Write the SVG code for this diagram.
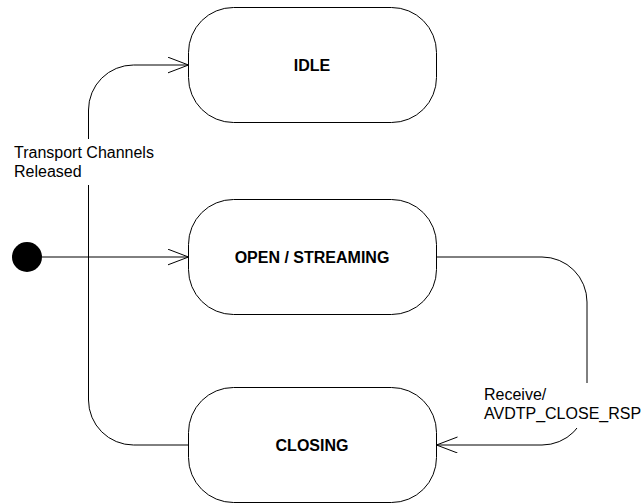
<svg xmlns="http://www.w3.org/2000/svg" width="641" height="504" viewBox="0 0 641 504">
<style>
.state{fill:#fff;stroke:#000;stroke-width:1}
.name{font-family:"Liberation Sans",Arial,sans-serif;font-weight:bold;font-size:16px;text-anchor:middle;fill:#000}
.lbl{font-family:"Liberation Sans",Arial,sans-serif;font-size:16px;fill:#000}
.edge{fill:none;stroke:#000;stroke-width:1}
.bg{fill:#fff;stroke:none}
</style>
<defs>
<marker id="open" markerWidth="24" markerHeight="20" refX="21" refY="8" orient="auto" markerUnits="userSpaceOnUse">
<path d="M0,0 L21,8 L0,16" fill="none" stroke="#000" stroke-width="1"/>
</marker>
</defs>
<rect width="641" height="504" fill="#fff"/>
<g id="connectors">
<path class="edge" d="M42,257 H188.5" marker-end="url(#open)"/>
<path class="edge" d="M188.5,445 H133.5 A45,45 0 0 1 88.5,400 V110 A45,45 0 0 1 133.5,65 H188.5" marker-end="url(#open)"/>
<path class="edge" d="M436.5,257 H542 A45,45 0 0 1 587,302 V400 A45,45 0 0 1 542,445 H436.5" marker-end="url(#open)"/>
<rect class="bg" x="12" y="139" width="145" height="46"/>
<text class="lbl" x="14" y="158">Transport Channels</text>
<text class="lbl" x="14" y="177">Released</text>
<rect class="bg" x="482" y="383" width="159" height="45"/>
<text class="lbl" x="484" y="400">Receive/</text>
<text class="lbl" x="484" y="419">AVDTP_CLOSE_RSP</text>
</g>
<g id="initial">
<circle cx="27" cy="257" r="15" fill="#000"/>
</g>
<g id="idle">
<rect class="state" x="188.5" y="7.5" width="248" height="115" rx="45" ry="45"/>
<text class="name" x="312" y="70.5">IDLE</text>
</g>
<g id="open-streaming">
<rect class="state" x="188.5" y="199.5" width="248" height="115" rx="45" ry="45"/>
<text class="name" x="312" y="263">OPEN / STREAMING</text>
</g>
<g id="closing">
<rect class="state" x="188.5" y="387.5" width="248" height="115" rx="45" ry="45"/>
<text class="name" x="312" y="451">CLOSING</text>
</g>
</svg>
